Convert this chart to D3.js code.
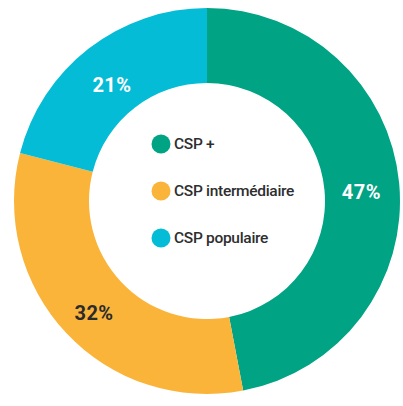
<html>
<head>
<script src="https://d3js.org/d3.v7.min.js"></script>
<style>
  body { margin: 0; background: #fff; }
  text { font-family: Roboto, "Liberation Sans", sans-serif; }
</style>
</head>
<body>
<svg width="403" height="406"></svg>
<script>
var categories = ["CSP +", "CSP intermédiaire", "CSP populaire"];
var values = [47, 32, 21];
var colors = ["#00a383", "#fbb43a", "#05bcd6"];
var labelColors = ["#ffffff", "#2b2b2b", "#ffffff"];

var svg = d3.select("svg");
var cx = 207, cy = 201;
var outerR = 193, innerR = 118;

var g = svg.append("g").attr("transform", "translate(" + cx + "," + cy + ")");

var pie = d3.pie().sort(null).value(function(d){ return d; });
var arcs = pie(values);

var arc = d3.arc().innerRadius(innerR).outerRadius(outerR);
var labelArc = d3.arc().innerRadius(155).outerRadius(155);

g.selectAll(".slice")
  .data(arcs)
  .enter()
  .append("path")
  .attr("class", "slice")
  .attr("d", arc)
  .attr("fill", function(d, i){ return colors[i]; });

// pourcentages
g.selectAll(".pct")
  .data(arcs)
  .enter()
  .append("text")
  .attr("class", "pct")
  .attr("transform", function(d){
    var c = labelArc.centroid(d);
    return "translate(" + c[0] + "," + (c[1] + 6) + ")";
  })
  .attr("text-anchor", "middle")
  .attr("dy", "0.35em")
  .style("font-size", "20px")
  .style("font-weight", "bold")
  .style("letter-spacing", "0.5px")
  .attr("fill", function(d, i){ return labelColors[i]; })
  .text(function(d){ return d.value + "%"; });

// légende au centre
var leg = svg.selectAll(".leg")
  .data(categories)
  .enter()
  .append("g")
  .attr("class", "leg")
  .attr("transform", function(d, i){ return "translate(161," + (144 + i * 47) + ")"; });

leg.append("circle")
  .attr("r", 9.5)
  .attr("fill", function(d, i){ return colors[i]; });

leg.append("text")
  .attr("x", 13)
  .attr("dy", "0.35em")
  .style("font-size", "15.5px")
  .style("font-weight", 500)
  .style("letter-spacing", "-0.3px")
  .attr("fill", "#2e2e2e")
  .text(function(d){ return d; });
</script>
</body>
</html>
